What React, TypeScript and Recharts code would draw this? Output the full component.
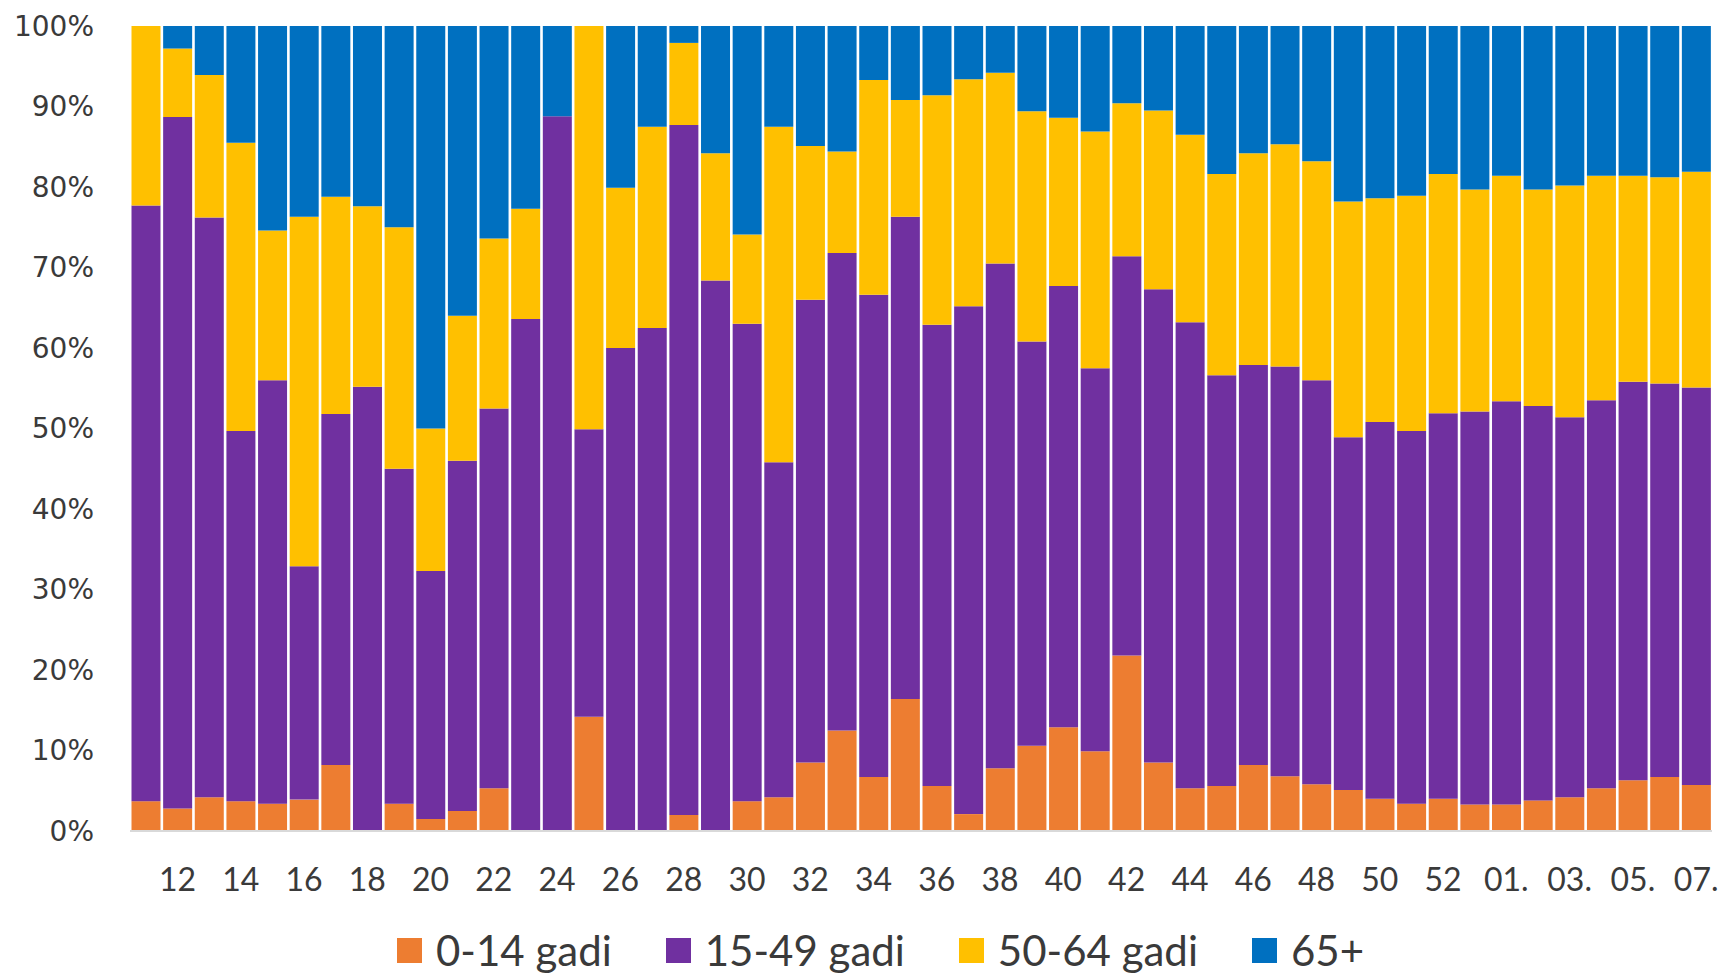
import { BarChart, Bar, XAxis, YAxis } from "recharts";
import React from "react";

const weeks = [
  "11", "12", "13", "14", "15", "16", "17", "18", "19", "20",
  "21", "22", "23", "24", "25", "26", "27", "28", "29", "30",
  "31", "32", "33", "34", "35", "36", "37", "38", "39", "40",
  "41", "42", "43", "44", "45", "46", "47", "48", "49", "50",
  "51", "52", "53", "01.", "02.", "03.", "04.", "05.", "06.", "07.",
];

const age0to14 = [
  3.7, 2.8, 4.2, 3.7, 3.4, 3.9, 8.2, 0, 3.4, 1.5,
  2.5, 5.3, 0, 0, 14.2, 0, 0, 2.0, 0, 3.7,
  4.2, 8.5, 12.5, 6.7, 16.4, 5.6, 2.1, 7.8, 10.6, 12.9,
  9.9, 21.8, 8.5, 5.3, 5.6, 8.2, 6.8, 5.8, 5.1, 4.0,
  3.4, 4.0, 3.3, 3.3, 3.8, 4.2, 5.3, 6.3, 6.7, 5.7,
];

const age15to49 = [
  74.0, 85.9, 72.0, 46.0, 52.6, 29.0, 43.6, 55.2, 41.6, 30.8,
  43.5, 47.2, 63.6, 88.8, 35.7, 60.0, 62.5, 85.7, 68.4, 59.3,
  41.6, 57.5, 59.3, 59.9, 59.9, 57.3, 63.1, 62.7, 50.2, 54.8,
  47.6, 49.6, 58.8, 57.9, 51.0, 49.7, 50.9, 50.2, 43.8, 46.8,
  46.3, 47.9, 48.8, 50.1, 49.0, 47.2, 48.2, 49.5, 48.9, 49.4,
];

const age50to64 = [
  22.3, 8.5, 17.7, 35.8, 18.6, 43.4, 27.0, 22.4, 30.0, 17.7,
  18.0, 21.1, 13.7, 0, 50.1, 19.9, 25.0, 10.2, 15.8, 11.1,
  41.7, 19.1, 12.6, 26.7, 14.5, 28.5, 28.2, 23.7, 28.6, 20.9,
  29.4, 19.0, 22.2, 23.3, 25.0, 26.3, 27.6, 27.2, 29.3, 27.8,
  29.2, 29.7, 27.6, 28.0, 26.9, 28.8, 27.9, 25.6, 25.6, 26.8,
];

const age65plus = [
  0, 2.8, 6.1, 14.5, 25.4, 23.7, 21.2, 22.4, 25.0, 50.0,
  36.0, 26.4, 22.7, 11.2, 0, 20.1, 12.5, 2.1, 15.8, 25.9,
  12.5, 14.9, 15.6, 6.7, 9.2, 8.6, 6.6, 5.8, 10.6, 11.4,
  13.1, 9.6, 10.5, 13.5, 18.4, 15.8, 14.7, 16.8, 21.8, 21.4,
  21.1, 18.4, 20.3, 18.6, 20.3, 19.8, 18.6, 18.6, 18.8, 18.1,
];

const yTicks = [0, 0.1, 0.2, 0.3, 0.4, 0.5, 0.6, 0.7, 0.8, 0.9, 1];

const series = [
  { key: "0-14 gadi", values: age0to14, color: "#ED7D31" },
  { key: "15-49 gadi", values: age15to49, color: "#7030A0" },
  { key: "50-64 gadi", values: age50to64, color: "#FFC000" },
  { key: "65+", values: age65plus, color: "#0070C0" },
];

const data = weeks.map((week, i) => {
  const row: any = { week };
  series.forEach((s) => {
    row[s.key] = s.values[i];
  });
  return row;
});

const ChartLegend = () => {
  return (
    <div
      style={{
        position: "absolute",
        top: 925,
        left: 397,
        height: 50,
        display: "flex",
        alignItems: "center",
        gap: 54,
        fontFamily: "Lato, sans-serif",
        fontSize: 42,
        color: "#3a3a3a",
        whiteSpace: "nowrap",
      }}
    >
      {series.map((s) => (
        <div key={s.key} style={{ display: "flex", alignItems: "center", gap: 14 }}>
          <span style={{ width: 25, height: 25, backgroundColor: s.color, display: "block" }} />
          <span style={{ lineHeight: 1 }}>{s.key}</span>
        </div>
      ))}
    </div>
  );
};

const App = () => {
  return (
    <div style={{ position: "absolute", left: 0, top: 0, width: 1721, height: 976, background: "#fff" }}>
      <BarChart
        width={1721}
        height={976}
        data={data}
        stackOffset="expand"
        barCategoryGap={1.5}
        margin={{ top: 26, right: 9, bottom: 115, left: 0 }}
      >
        <XAxis
          dataKey="week"
          interval={0}
          height={30}
          tickLine={false}
          tickSize={0}
          tickMargin={37}
          axisLine={{ stroke: "#d9d9d9", strokeWidth: 2 }}
          tick={{ fontSize: 32, fill: "#3a3a3a", fontFamily: "Lato, sans-serif" }}
          tickFormatter={(v: string, i: number) => (i % 2 === 1 ? v : "")}
        />
        <YAxis
          type="number"
          domain={[0, 1]}
          ticks={yTicks}
          width={130}
          axisLine={false}
          tickLine={false}
          tickSize={0}
          tickMargin={36}
          tick={{ fontSize: 28, fill: "#3a3a3a", fontFamily: "DejaVu Sans, sans-serif" }}
          tickFormatter={(v: number) => `${Math.round(v * 100)}%`}
        />
        {series.map((s) => (
          <Bar
            key={s.key}
            dataKey={s.key}
            stackId="a"
            fill={s.color}
            isAnimationActive={false}
          />
        ))}
      </BarChart>
      <ChartLegend />
    </div>
  );
};

export default App;
